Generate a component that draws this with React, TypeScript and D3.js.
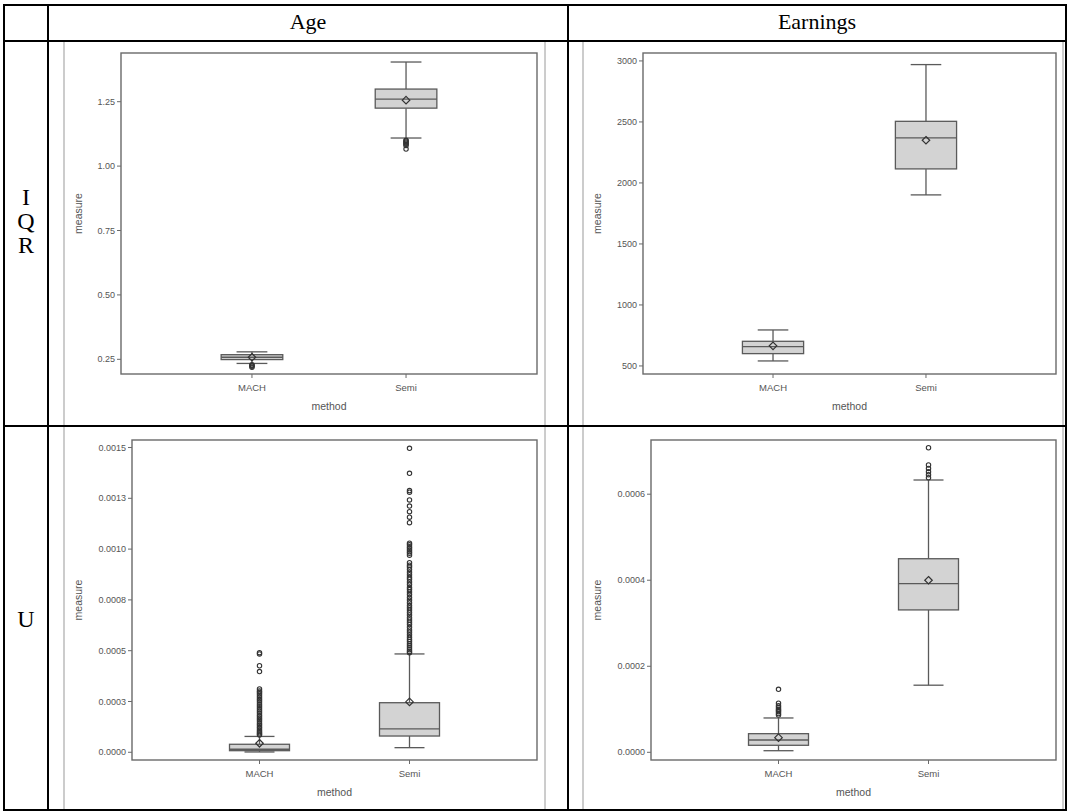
import React from "react";
import * as d3 from "d3";

const methods = ["MACH", "Semi"];

// IQR / Age
const iqrAgeDomain = [0.193, 1.439];
const iqrAgeTicks = [0.25, 0.5, 0.75, 1.0, 1.25];
const iqrAgeTickLabels = ["0.25", "0.50", "0.75", "1.00", "1.25"];
const iqrAgeStats = [
  { method: "MACH", lo: 0.234, q1: 0.249, median: 0.258, q3: 0.268, hi: 0.279, mean: 0.258 },
  { method: "Semi", lo: 1.109, q1: 1.225, median: 1.26, q3: 1.299, hi: 1.404, mean: 1.256 },
];
const iqrAgeOutliers = [
  { method: "MACH", values: [0.229, 0.226, 0.223, 0.219] },
  { method: "Semi", values: [1.1, 1.097, 1.093, 1.089, 1.085, 1.08, 1.066] },
];

// IQR / Earnings
const iqrEarnDomain = [434, 3065];
const iqrEarnTicks = [500, 1000, 1500, 2000, 2500, 3000];
const iqrEarnTickLabels = ["500", "1000", "1500", "2000", "2500", "3000"];
const iqrEarnStats = [
  { method: "MACH", lo: 541, q1: 601, median: 658, q3: 702, hi: 795, mean: 665 },
  { method: "Semi", lo: 1902, q1: 2115, median: 2369, q3: 2505, hi: 2970, mean: 2350 },
];
const iqrEarnOutliers: { method: string; values: number[] }[] = [];

// U / Age
const uAgeDomain = [-0.000038, 0.001537];
const uAgeTicks = [0, 0.00025, 0.0005, 0.00075, 0.001, 0.00125, 0.0015];
const uAgeTickLabels = ["0.0000", "0.0003", "0.0005", "0.0008", "0.0010", "0.0013", "0.0015"];
const uAgeStats = [
  { method: "MACH", lo: 0.0000015, q1: 0.0000079, median: 0.0000148, q3: 0.0000394, hi: 0.000078, mean: 0.0000443 },
  { method: "Semi", lo: 0.0000227, q1: 0.00008, median: 0.000115, q3: 0.000244, hi: 0.000484, mean: 0.000248 },
];
const uAgeOutliers = [
  {
    method: "MACH",
    values: [
      0.00049, 0.000484, 0.000426, 0.000397, 0.000312, 0.000302, 0.000295, 0.000288, 0.00028, 0.000271,
      0.000262, 0.000255, 0.000246, 0.000236, 0.000228, 0.000219, 0.00021, 0.000202, 0.000193, 0.000184,
      0.000176, 0.000168, 0.00016, 0.000151, 0.000142, 0.000134, 0.000126, 0.000118, 0.00011, 0.000102,
      0.000096, 0.00009, 0.000085,
    ],
  },
  {
    method: "Semi",
    values: [
      0.001496, 0.001373, 0.001288, 0.00128, 0.001242, 0.001212, 0.001184, 0.001157, 0.00113, 0.001029,
      0.001021, 0.001012, 0.001004, 0.000996, 0.000987, 0.000979, 0.00097, 0.000933, 0.000921, 0.000912,
      0.0009, 0.000886, 0.000874, 0.000861, 0.000852, 0.000838, 0.000826, 0.000811, 0.000801, 0.000789,
      0.000776, 0.000762, 0.000749, 0.000736, 0.000722, 0.000711, 0.0007, 0.000688, 0.000676, 0.000662,
      0.000651, 0.00064, 0.000629, 0.000615, 0.000602, 0.000591, 0.000578, 0.000566, 0.000555, 0.000545,
      0.000534, 0.000524, 0.000514, 0.000505, 0.000496, 0.00049,
    ],
  },
];

// U / Earnings
const uEarnDomain = [-0.0000179, 0.000726];
const uEarnTicks = [0, 0.0002, 0.0004, 0.0006];
const uEarnTickLabels = ["0.0000", "0.0002", "0.0004", "0.0006"];
const uEarnStats = [
  { method: "MACH", lo: 0.0000037, q1: 0.0000163, median: 0.0000286, q3: 0.0000433, hi: 0.0000798, mean: 0.000034 },
  { method: "Semi", lo: 0.000156, q1: 0.000331, median: 0.000392, q3: 0.00045, hi: 0.000633, mean: 0.0004 },
];
const uEarnOutliers = [
  { method: "MACH", values: [0.0001465, 0.000114, 0.000108, 0.000104, 0.0001, 0.000097, 0.000094, 0.00009, 0.0000865] },
  { method: "Semi", values: [0.000708, 0.000668, 0.00066, 0.000652, 0.000645, 0.000638] },
];

const colHeaders = ["Age", "Earnings"];
const rowHeaders = ["IQR", "U"];

const sans = "'Liberation Sans', Arial, sans-serif";
const serif = "'Liberation Serif', 'Times New Roman', serif";
const ink = "#555";

type Stat = { method: string; lo: number; q1: number; median: number; q3: number; hi: number; mean: number };

function BoxPanel({ img, frame, domain, ticks, tickLabels, stats, outliers }: any) {
  const [fl, ft, fr, fb] = frame;
  const x = d3.scalePoint<string>().domain(methods).range([fl, fr]).padding(0.85);
  const y = d3.scaleLinear().domain(domain).range([fb, ft]);
  const boxW = x.step() * 0.4;
  const capW = boxW / 2;

  return (
    <g>
      <rect x={img[0]} y={img[1]} width={img[2] - img[0]} height={img[3] - img[1]} fill="#fff" stroke="#9a9a9a" strokeWidth={1} />
      <rect x={fl} y={ft} width={fr - fl} height={fb - ft} fill="#fff" stroke="#6a6a6a" strokeWidth={1.4} />
      {ticks.map((t: number, i: number) => (
        <g key={i}>
          <line x1={fl - 4} x2={fl} y1={y(t)} y2={y(t)} stroke="#6a6a6a" strokeWidth={1} />
          <text x={fl - 6} y={y(t)} dy="0.34em" textAnchor="end" fontSize={9} fontFamily={sans} fill={ink}>
            {tickLabels[i]}
          </text>
        </g>
      ))}
      {methods.map((m) => (
        <g key={m}>
          <line x1={x(m)} x2={x(m)} y1={fb} y2={fb + 4} stroke="#6a6a6a" strokeWidth={1} />
          <text x={x(m)} y={fb + 14} dy="0.34em" textAnchor="middle" fontSize={9.5} fontFamily={sans} fill={ink}>
            {m}
          </text>
        </g>
      ))}
      <text x={(fl + fr) / 2} y={fb + 32} dy="0.34em" textAnchor="middle" fontSize={10.5} fontFamily={sans} fill={ink}>
        method
      </text>
      <text
        transform={`translate(${img[0] + 14},${(ft + fb) / 2}) rotate(-90)`}
        dy="0.34em"
        textAnchor="middle"
        fontSize={10.5}
        fontFamily={sans}
        fill={ink}
      >
        measure
      </text>
      {stats.map((s: Stat) => {
        const cx = x(s.method) as number;
        return (
          <g key={s.method} stroke="#5a5a5a" strokeWidth={1.3}>
            <line x1={cx} x2={cx} y1={y(s.hi)} y2={y(s.q3)} />
            <line x1={cx} x2={cx} y1={y(s.q1)} y2={y(s.lo)} />
            <line x1={cx - capW / 2} x2={cx + capW / 2} y1={y(s.hi)} y2={y(s.hi)} />
            <line x1={cx - capW / 2} x2={cx + capW / 2} y1={y(s.lo)} y2={y(s.lo)} />
            <rect x={cx - boxW / 2} y={y(s.q3)} width={boxW} height={y(s.q1) - y(s.q3)} fill="#d3d3d3" />
            <line x1={cx - boxW / 2} x2={cx + boxW / 2} y1={y(s.median)} y2={y(s.median)} />
            <path
              d={d3.symbol(d3.symbolDiamond2, 36)() as string}
              transform={`translate(${cx},${y(s.mean)})`}
              fill="none"
              stroke="#333"
              strokeWidth={1.2}
            />
          </g>
        );
      })}
      {outliers.map((o: { method: string; values: number[] }) =>
        o.values.map((v, i) => (
          <circle key={o.method + i} cx={x(o.method)} cy={y(v)} r={2.2} fill="none" stroke="#333" strokeWidth={1.1} />
        ))
      )}
    </g>
  );
}

export default function App() {
  const W = 1068;
  const H = 812;
  const tl = 4, tt = 5, tr = 1066, tb = 810;
  const c1 = 48, c2 = 568, r1 = 41, r2 = 426;

  return (
    <svg width={W} height={H} style={{ position: "absolute", left: 0, top: 0, background: "#fff" }}>
      <rect width={W} height={H} fill="#fff" />
      <BoxPanel img={[64, r1, 545, r2]} frame={[121, 53, 537, 374]} domain={iqrAgeDomain} ticks={iqrAgeTicks}
        tickLabels={iqrAgeTickLabels} stats={iqrAgeStats} outliers={iqrAgeOutliers} />
      <BoxPanel img={[583, r1, 1063, r2]} frame={[643, 53, 1056, 374]} domain={iqrEarnDomain} ticks={iqrEarnTicks}
        tickLabels={iqrEarnTickLabels} stats={iqrEarnStats} outliers={iqrEarnOutliers} />
      <BoxPanel img={[64, r2, 545, tb]} frame={[132, 440, 537, 760]} domain={uAgeDomain} ticks={uAgeTicks}
        tickLabels={uAgeTickLabels} stats={uAgeStats} outliers={uAgeOutliers} />
      <BoxPanel img={[583, r2, 1063, tb]} frame={[651, 440, 1056, 760]} domain={uEarnDomain} ticks={uEarnTicks}
        tickLabels={uEarnTickLabels} stats={uEarnStats} outliers={uEarnOutliers} />

      {/* table grid */}
      <g stroke="#000" strokeWidth={2} fill="none">
        <rect x={tl} y={tt} width={tr - tl} height={tb - tt} />
        <line x1={c1} x2={c1} y1={tt} y2={tb} />
        <line x1={c2} x2={c2} y1={tt} y2={tb} />
        <line x1={tl} x2={tr} y1={r1} y2={r1} />
        <line x1={tl} x2={tr} y1={r2} y2={r2} />
      </g>

      <text x={(c1 + c2) / 2} y={29} textAnchor="middle" fontSize={22} fontFamily={serif} fill="#000">{colHeaders[0]}</text>
      <text x={(c2 + tr) / 2} y={29} textAnchor="middle" fontSize={22} fontFamily={serif} fill="#000">{colHeaders[1]}</text>
      {rowHeaders[0].split("").map((ch, i) => (
        <text key={i} x={(tl + c1) / 2} y={205 + i * 24} textAnchor="middle" fontSize={24} fontFamily={serif} fill="#000">{ch}</text>
      ))}
      <text x={(tl + c1) / 2} y={627} textAnchor="middle" fontSize={24} fontFamily={serif} fill="#000">{rowHeaders[1]}</text>
    </svg>
  );
}
